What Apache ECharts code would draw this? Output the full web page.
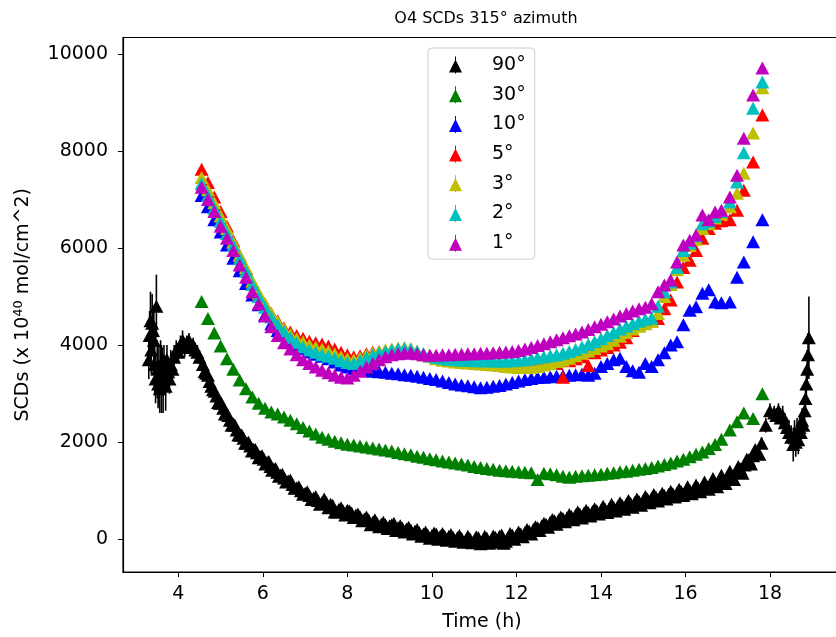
<!DOCTYPE html>
<html><head><meta charset="utf-8">
<script src="https://cdn.jsdelivr.net/npm/echarts@6/dist/echarts.min.js"></script>
<style>html,body{margin:0;padding:0;background:#fff;overflow:hidden;width:836px;height:637px}#c{width:841px;height:637px}</style>
</head><body><div id="c"></div>
<script>
const seriesNames = ['90°','30°','10°','5°','3°','2°','1°'];
const seriesColors = ['#000000','#008000','#0000ff','#ff0000','#bfbf00','#00bfbf','#bf00bf'];
const xTicks = [4,6,8,10,12,14,16,18];
const yTicks = [0,2000,4000,6000,8000,10000];

const times90 = [
3.30,3.32,3.34,3.36,3.38,3.40,3.42,3.44,3.46,3.48,
3.50,3.52,3.54,3.56,3.58,3.60,3.62,3.64,3.66,3.68,
3.70,3.73,3.76,3.79,3.82,3.86,3.90,3.95,4.00,4.05,
4.10,4.15,4.20,4.25,4.30,4.35,4.40,4.45,4.50,4.58,
4.66,4.74,4.82,4.90,4.98,5.06,5.14,5.22,5.30,5.38,
5.46,5.54,5.62,5.70,5.78,5.86,5.94,6.02,6.10,6.18,
6.26,6.34,6.42,6.50,6.60,6.70,6.80,6.90,7.00,7.10,
7.20,7.30,7.40,7.50,7.60,7.70,7.80,7.90,8.00,8.10,
8.20,8.30,8.40,8.50,8.60,8.70,8.80,8.90,9.00,9.10,
9.20,9.30,9.40,9.50,9.60,9.70,9.80,9.90,10.00,10.10,
10.20,10.30,10.40,10.50,10.60,10.70,10.80,10.90,11.00,11.10,
11.20,11.30,11.40,11.50,11.60,11.70,11.80,11.90,12.00,12.10,
12.20,12.30,12.40,12.50,12.60,12.70,12.80,12.90,13.00,13.10,
13.20,13.30,13.40,13.50,13.60,13.70,13.80,13.90,14.00,14.10,
14.20,14.30,14.40,14.50,14.60,14.70,14.80,14.90,15.00,15.10,
15.20,15.30,15.40,15.50,15.60,15.70,15.80,15.90,16.00,16.10,
16.20,16.30,16.40,16.50,16.60,16.70,16.80,16.90,17.00,17.10,
17.20,17.30,17.40,17.50,17.60,17.70,17.80,17.90,18.00,18.10,
18.15,18.20,18.25,18.30,18.35,18.40,18.45,18.50,18.55,18.58,
18.61,18.64,18.67,18.70,18.73,18.76,18.79,18.82,18.84,18.86,
18.88,18.90,18.92];
const scd90 = [
3700,4200,4500,3900,4450,4300,4100,3600,3300,4800,
3500,3200,3400,3100,3600,3300,3450,3200,3600,3400,
3150,3700,3450,3300,3600,3500,3750,3900,3850,4000,
4100,3950,4050,4100,3950,4000,3900,3850,3750,3600,
3420,3250,3080,2950,2800,2700,2580,2450,2380,2250,
2150,2080,1980,1920,1850,1780,1700,1650,1580,1500,
1450,1380,1320,1260,1200,1130,1060,1000,950,900,
850,800,760,760,720,560,620,580,600,540,
500,460,420,400,350,330,310,300,280,330,
240,230,210,190,170,140,110,90,80,110,
70,60,60,40,30,20,-20,10,-30,30,
-50,20,-20,40,60,-80,30,90,80,110,
140,170,200,240,280,310,350,380,400,430,
450,470,500,520,540,550,570,590,600,620,
640,660,680,700,720,740,760,780,800,830,
850,870,880,900,920,940,960,980,990,1010,
1030,1050,1080,1100,1130,1160,1190,1220,1250,1300,
1380,1450,1530,1640,1720,1800,1980,2350,2650,2600,
2550,2650,2500,2550,2400,2300,2200,2100,1950,2150,
2000,2200,2050,2300,2200,2450,2350,2650,2900,3200,
3500,3800,4150];
const err90 = [
400,500,600,500,600,500,700,600,500,650,
600,500,600,500,500,700,500,600,400,400,
500,300,300,300,300,250,250,200,200,200,
200,200,150,150,150,150,150,150,150,150,
150,150,150,120,120,120,120,120,120,120,
120,120,120,120,120,120,120,120,120,120,
100,100,100,100,100,100,100,100,100,100,
100,100,100,100,100,100,100,100,100,100,
100,100,100,100,100,100,100,100,100,100,
100,100,100,100,100,100,100,100,100,100,
100,100,100,100,100,100,100,100,100,100,
100,100,100,100,100,100,100,100,100,100,
100,100,100,100,100,100,100,100,100,100,
100,100,100,100,100,100,100,100,100,100,
100,100,100,100,100,100,100,100,100,100,
100,100,100,100,100,100,100,100,100,100,
100,100,100,100,100,100,100,100,100,100,
100,100,100,100,100,120,120,150,150,150,
150,150,200,200,200,200,250,250,350,300,
300,300,300,250,250,250,250,300,300,350,
400,450,850];
// interleaved 90° scans (noisier measurements between the above)
const times90b = [
4.62,4.70,4.78,4.86,4.94,5.02,5.10,5.18,5.26,5.34,
5.42,5.50,5.58,5.66,5.74,5.82,5.90,5.98,6.06,6.14,
6.22,6.30,6.38,6.46,6.55,6.65,6.75,6.85,6.95,7.05,
7.15,7.25,7.35,7.45,7.55,7.65,7.75,7.85,7.95,8.05,
8.15,8.25,8.35,8.45,8.55,8.65,8.75,8.85,8.95,9.05,
9.15,9.25,9.35,9.45,9.55,9.65,9.75,9.85,9.95,10.05,
10.15,10.25,10.35,10.45,10.55,10.65,10.75,10.85,10.95,11.05,
11.15,11.25,11.35,11.45,11.55,11.65,11.75,11.85,11.95,12.05,
12.15,12.25,12.35,12.45,12.55,12.65,12.75,12.85,12.95,13.05,
13.15,13.25,13.35,13.45,13.55,13.65,13.75,13.85,13.95,14.05,
14.15,14.25,14.35,14.45,14.55,14.65,14.75,14.85,14.95,15.05,
15.15,15.25,15.35,15.45,15.55,15.65,15.75,15.85,15.95,16.05,
16.15,16.25,16.35,16.45,16.55,16.65,16.75,16.85,16.95,17.05,
17.15,17.25,17.35,17.45,17.55,17.65,17.75];
const scd90b = [
3450,3380,3150,3050,2820,2800,2580,2550,2350,2350,
2150,2150,1980,2000,1820,1850,1680,1720,1550,1600,
1420,1460,1300,1340,1180,1220,1050,1080,930,980,
820,880,720,830,650,700,560,650,500,580,
450,520,380,460,300,400,260,350,220,300,
180,280,150,250,110,200,60,150,20,130,
0,120,-20,100,-40,80,-60,60,-70,50,
-90,60,-80,70,-60,90,-40,120,0,150,
50,200,110,260,180,330,250,410,310,460,
360,510,400,560,440,600,480,630,520,680,
550,720,580,750,620,800,660,830,700,880,
750,920,790,950,830,990,870,1030,900,1080,
940,1120,980,1180,1030,1250,1080,1320,1150,1400,
1230,1500,1360,1650,1550,1850,1750];

const timesScan = [
4.55,4.70,4.85,5.00,5.15,5.30,5.45,5.60,5.75,5.90,
6.05,6.20,6.35,6.50,6.65,6.80,6.95,7.10,7.25,7.40,
7.55,7.70,7.85,8.00,8.15,8.30,8.45,8.60,8.75,8.90,
9.05,9.20,9.35,9.50,9.65,9.80,9.95,10.10,10.25,10.40,
10.55,10.70,10.85,11.00,11.15,11.30,11.45,11.60,11.75,11.90,
12.05,12.20,12.35,12.50,12.65,12.80,12.95,13.10,13.25,13.40,
13.55,13.70,13.85,14.00,14.15,14.30,14.45,14.60,14.75,14.90,
15.05,15.20,15.35,15.50,15.65,15.80,15.95,16.10,16.25,16.40,
16.55,16.70,16.85,17.05,17.22,17.38,17.60,17.82];
const scd30 = [
4900,4550,4250,3980,3720,3500,3280,3100,2930,2800,
2700,2620,2580,2520,2450,2380,2300,2230,2170,2100,
2060,2020,1990,1960,1940,1920,1900,1880,1860,1840,
1820,1790,1760,1740,1710,1690,1660,1640,1610,1590,
1570,1550,1530,1500,1480,1460,1440,1420,1410,1400,
1390,1380,1370,1230,1360,1350,1330,1300,1280,1300,
1310,1320,1330,1340,1360,1370,1390,1400,1420,1440,
1460,1480,1510,1540,1570,1610,1650,1700,1750,1800,
1870,1950,2060,2250,2420,2600,2490,3000];
const scd10 = [
7080,6850,6580,6330,6060,5790,5530,5270,5030,4830,
4620,4440,4300,4200,4100,4010,3930,3860,3810,3770,
3720,3650,3590,3550,3520,3500,3480,3460,3450,3440,
3420,3410,3390,3380,3360,3340,3310,3290,3260,3230,
3200,3180,3160,3140,3120,3130,3150,3170,3200,3230,
3260,3290,3310,3330,3340,3350,3360,3370,3380,3390,
3400,3380,3420,3560,3620,3700,3730,3560,3470,3440,
3620,3560,3700,3840,4000,4070,4420,4720,4790,5070,
5140,4890,4870,4890,5400,5710,6130,6580];
const scd5 = [
7620,7350,7050,6750,6450,6150,5850,5580,5300,5050,
4850,4650,4500,4350,4270,4200,4140,4080,4050,4020,
3980,3920,3850,3800,3760,3780,3820,3850,3870,3880,
3900,3880,3870,3850,3830,3800,3780,3760,3740,3720,
3700,3690,3670,3650,3640,3630,3620,3610,3600,3600,
3610,3620,3630,3640,3650,3660,3620,3340,3680,3720,
3760,3580,3840,3900,3950,4000,4060,4150,4300,4420,
4480,4500,4550,4750,4930,5300,5600,5750,5950,6200,
6400,6510,6560,6580,6780,7190,7770,8740];
const scd3 = [
7450,7200,6930,6660,6400,6120,5850,5600,5320,5080,
4850,4650,4480,4330,4220,4130,4070,4000,3960,3920,
3880,3820,3760,3720,3700,3740,3790,3830,3870,3900,
3920,3940,3950,3930,3880,3820,3770,3720,3690,3670,
3650,3640,3630,3620,3610,3600,3590,3580,3560,3550,
3540,3540,3540,3560,3590,3620,3660,3690,3730,3780,
3830,3880,3930,3980,4030,4100,4180,4260,4330,4390,
4440,4490,4650,5000,5250,5550,5850,6050,6180,6400,
6500,6620,6700,6850,7130,7540,8370,9300];
const scd2 = [
7330,7080,6820,6550,6300,6050,5780,5520,5250,5000,
4780,4580,4420,4280,4150,4050,3960,3900,3850,3800,
3770,3730,3680,3640,3620,3680,3740,3790,3830,3870,
3900,3920,3930,3910,3870,3820,3780,3750,3730,3710,
3700,3690,3690,3680,3680,3680,3670,3670,3670,3680,
3690,3700,3720,3740,3760,3780,3800,3830,3870,3910,
3960,4010,4070,4130,4200,4260,4330,4390,4440,4490,
4530,4560,4800,5100,5300,5600,5950,6100,6250,6500,
6550,6650,6750,6950,7360,7960,8880,9420];
const scd1 = [
7250,7000,6750,6450,6200,5950,5650,5400,5100,4850,
4600,4380,4200,4050,3920,3800,3700,3620,3550,3480,
3430,3380,3340,3320,3380,3460,3550,3620,3700,3760,
3800,3820,3830,3840,3820,3800,3790,3790,3800,3800,
3810,3810,3820,3820,3830,3830,3840,3850,3860,3870,
3890,3920,3950,3990,4030,4070,4110,4150,4190,4230,
4270,4320,4380,4430,4480,4540,4600,4650,4700,4750,
4780,4850,5100,5240,5340,5710,6060,6160,6270,6680,
6580,6740,6780,7050,7500,8260,9150,9710];

const FONT = 'DejaVu Sans';
const chart = echarts.init(document.getElementById('c'), null, {renderer:'canvas'});

const scanValues = [scd30, scd10, scd5, scd3, scd2, scd1];
const legendIcon = 'path://M6,0 L7,0 L7,4 L13,16 L7,16 L7,17 L6,17 L6,16 L0,16 L6,4 Z';

function errSeries(times, vals, errs, color) {
  return {
    type: 'custom', silent: true, z: 2,
    encode: {x: 0, y: [1, 2]},
    data: times.map((t, i) => [t, vals[i] - errs[i], vals[i] + errs[i]]),
    renderItem: function (params, api) {
      const p1 = api.coord([api.value(0), api.value(1)]);
      const p2 = api.coord([api.value(0), api.value(2)]);
      return {type: 'line', shape: {x1: p1[0], y1: p1[1], x2: p2[0], y2: p2[1]},
              style: {stroke: color, lineWidth: 1.6}};
    },
    clip: true
  };
}
function scatterSeries(name, times, vals, color) {
  return {
    type: 'scatter', name: name, z: 3,
    symbol: 'triangle', symbolSize: [14, 13],
    itemStyle: {color: color, opacity: 1},
    emphasis: {disabled: true},
    data: times.map((t, i) => [t, vals[i]])
  };
}

const series = [];
series.push(errSeries(times90, scd90, err90, seriesColors[0]));
series.push(scatterSeries(seriesNames[0], times90.concat(times90b), scd90.concat(scd90b), seriesColors[0]));
scanValues.forEach((vals, k) => {
  series.push(scatterSeries(seriesNames[k + 1], timesScan, vals, seriesColors[k + 1]));
});

chart.setOption({
  animation: false,
  backgroundColor: '#ffffff',
  textStyle: {fontFamily: FONT},
  title: {
    text: 'O4 SCDs 315° azimuth',
    left: 481, top: 6, textAlign: 'center',
    textStyle: {fontFamily: FONT, fontSize: 16, fontWeight: 'normal', color: '#000'}
  },
  grid: {left: 123, right: 0, top: 37.5, bottom: 65,
         show: true, borderColor: '#000', borderWidth: 1.2, backgroundColor: 'transparent'},
  legend: {
    orient: 'vertical', left: 428, top: 48,
    padding: [6, 9, 5, 21], itemGap: 7.7,
    itemWidth: 13, itemHeight: 17,
    backgroundColor: 'rgba(255,255,255,0.8)', borderColor: '#cccccc', borderWidth: 1, borderRadius: 4,
    textStyle: {fontFamily: FONT, fontSize: 19, color: '#000', padding: [0, 0, 0, 25], lineHeight: 22},
    selectedMode: false,
    data: seriesNames.map((n, i) => ({name: n, icon: legendIcon, itemStyle: {color: seriesColors[i]}}))
  },
  xAxis: {
    type: 'value', min: 2.69, max: 19.68,
    name: 'Time (h)', nameLocation: 'middle', nameGap: 41,
    nameTextStyle: {fontFamily: FONT, fontSize: 19, color: '#000'},
    axisLine: {show: true, onZero: false, lineStyle: {color: '#000', width: 1.2}},
    axisTick: {show: true, length: 5, inside: false, customValues: xTicks, lineStyle: {color: '#000', width: 1}},
    axisLabel: {customValues: xTicks, fontFamily: FONT, fontSize: 19, color: '#000', margin: 13,
                formatter: v => String(v)},
    splitLine: {show: false}
  },
  yAxis: {
    type: 'value', min: -674, max: 10336,
    name: '{a|SCDs (x 10}{s|40}{a| mol/cm^2)}', nameLocation: 'middle', nameGap: 88, nameRotate: 90,
    nameTextStyle: {fontFamily: FONT, color: '#000',
      rich: {a: {fontFamily: FONT, fontSize: 19, color: '#000'},
             s: {fontFamily: FONT, fontSize: 13, color: '#000', padding: [0, 0, 10, 0]}}},
    axisLine: {show: true, onZero: false, lineStyle: {color: '#000', width: 1.2}},
    axisTick: {show: true, length: 5, inside: false, customValues: yTicks, lineStyle: {color: '#000', width: 1}},
    axisLabel: {customValues: yTicks, fontFamily: FONT, fontSize: 19, color: '#000', margin: 15,
                formatter: v => String(v)},
    splitLine: {show: false}
  },
  series: series
});
</script></body></html>
